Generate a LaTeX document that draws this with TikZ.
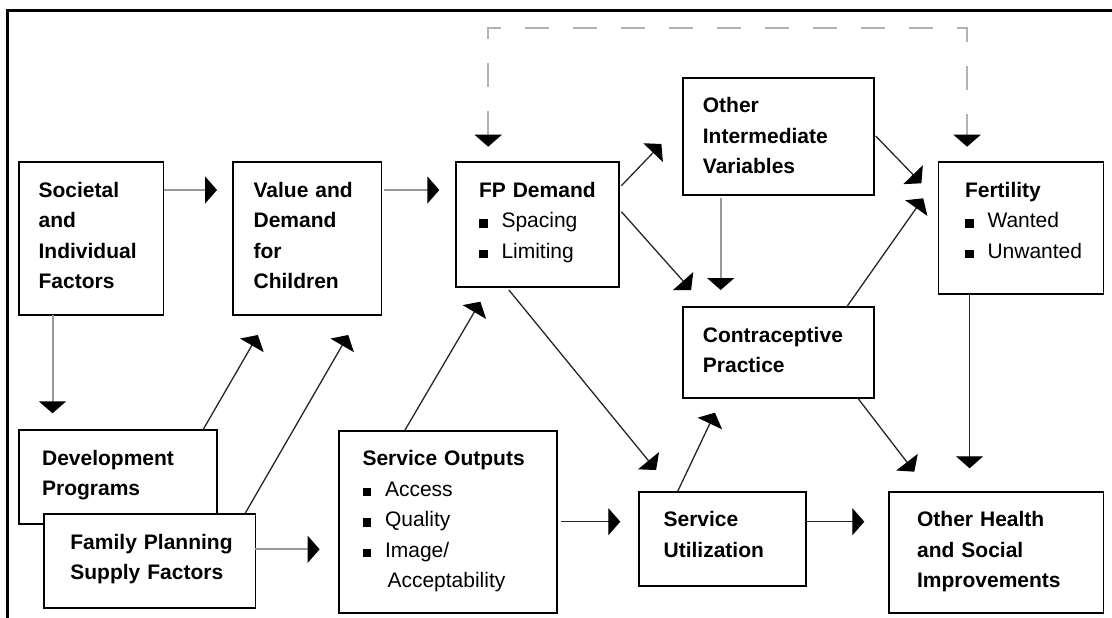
\documentclass[tikz,border=0pt]{standalone}
\usepackage{fontspec}
\setmainfont{Liberation Sans}
\usetikzlibrary{arrows.meta}
\newcommand{\fpitem}{\rule{8.5pt}{8.5pt}\hspace{14pt}\mdseries}

\begin{document}
\begin{tikzpicture}[
                x=1pt, y=-1pt,
                box/.style={draw, line width=1.7pt, fill=white, anchor=north west, inner sep=0pt, outer sep=0pt,
                            align=left, text height=35pt, font=\fontsize{21}{30.5}\selectfont\bfseries},
                pad/.style={execute at begin node={\leftskip=#1\relax}},
                line/.style={draw=black!85, line width=1.3pt, -{Triangle[width=27pt,length=12pt,color=black]}},
                grayline/.style={line, draw=black!40, line width=2pt},
                dashline/.style={draw=black!30, line width=2pt, dash pattern=on 24pt off 24pt,
                                 {Triangle[width=27pt,length=12pt,color=black]}-{Triangle[width=27pt,length=12pt,color=black]}}
            ]
            \useasboundingbox (0,0) rectangle (1112,618);
            \draw[line width=3pt] (7.9,640) -- (7.9,11) -- (1130,11);

            \node[box, pad=19.7pt, text width=144.7pt, text depth=117.7pt] (soc) at (18.9,162.3) {Societal\\and\\Individual\\Factors};
            \node[box, pad=20.4pt, text width=148.2pt, text depth=117.7pt] (val) at (233.2,162.3) {Value and\\Demand\\for\\Children};
            \node[box, pad=23pt, text width=162.9pt, text depth=89.4pt] (fpd) at (456,162.3) {FP Demand\\\fpitem Spacing\\\fpitem Limiting};
            \node[box, pad=19.7pt, text width=191.1pt, text depth=82.3pt] (oiv) at (683.2,77.7) {Other\\Intermediate\\Variables};
            \node[box, pad=26.4pt, text width=165pt, text depth=97pt] (fert) at (938.6,162.3) {Fertility\\\fpitem Wanted\\\fpitem Unwanted};
            \node[box, pad=19.7pt, text width=191.1pt, text depth=56pt] (cp) at (683.2,307.3) {Contraceptive\\Practice};
            \node[box, pad=23.2pt, text width=197.9pt, text depth=59pt] (dev) at (18.9,430) {Development\\Programs};
            \node[box, pad=26.5pt, text width=211.5pt, text depth=59pt] (sup) at (43.9,514.3) {Family Planning\\Supply Factors};
            \node[box, pad=23.2pt, text width=217.8pt, text depth=147pt] (so) at (339.3,430.7) {Service Outputs\\\fpitem Access\\\fpitem Quality\\\fpitem Image/\\\hspace*{25pt}Acceptability};
            \node[box, pad=24.3pt, text width=166.4pt, text depth=59pt] (su) at (639.3,491.7) {Service\\Utilization};
            \node[box, pad=27.8pt, text width=214.3pt, text depth=86pt] (oh) at (889.3,491.7) {Other Health\\and Social\\Improvements};

            \draw[grayline, shorten >=16.2pt] ([yshift=-27.7pt]soc.north east) -- ([yshift=-27.7pt]val.north west);
            \draw[grayline, shorten <=2.6pt, shorten >=16.7pt] ([yshift=-27.7pt]val.north east) -- ([yshift=-27.7pt]fpd.north west);
            \draw[dashline, shorten <=15.6pt, shorten >=15.6pt] ([xshift=32.2pt]fpd.north west) -- ++(0,-134) -| ([xshift=28.5pt]fert.north west);

            \draw[line] ([xshift=2.5pt,yshift=-23.4pt]fpd.north east) -- ([xshift=-21.8pt,yshift=-66.3pt]oiv.north west);
            \draw[line] ([xshift=2.5pt,yshift=-49.4pt]fpd.north east) -- ([xshift=7.9pt,yshift=17.3pt]cp.north west);
            \draw[grayline] ([xshift=37.5pt,yshift=-3pt]oiv.south west) -- ([xshift=37.5pt,yshift=17.3pt]cp.north west);
            \draw[line] ([xshift=1.4pt,yshift=-58.3pt]oiv.north east) -- ([xshift=-17.2pt,yshift=-21pt]fert.north west);
            \draw[line] ([xshift=-27.9pt]cp.north east) -- ([xshift=-15.4pt,yshift=-36pt]fert.north west);
            \draw[line, shorten >=23.4pt] ([xshift=31pt]fert.south west) -- ([xshift=80.3pt]oh.north west);

            \draw[grayline, shorten >=16.7pt] ([xshift=33.6pt]soc.south west) -- ([xshift=33.6pt]dev.north west);
            \draw[line] ([xshift=-13.9pt]dev.north east) -- ([xshift=24.7pt,yshift=-20pt]val.south west);
            \draw[line] ([xshift=-10.8pt]sup.north east) -- ([xshift=115pt,yshift=-20pt]val.south west);
            \draw[grayline, shorten >=19.7pt] ([yshift=-35pt]sup.north east) -- ([yshift=-118.6pt]so.north west);

            \draw[line] ([xshift=65.3pt]so.north west) -- ([xshift=24.4pt,yshift=-15pt]fpd.south west);
            \draw[line] ([xshift=52.9pt,yshift=-3.3pt]fpd.south west) -- ([xshift=16.8pt,yshift=21.7pt]su.north west);
            \draw[line, shorten <=3.6pt, shorten >=19pt] ([yshift=-91pt]so.north east) -- ([yshift=-30pt]su.north west);
            \draw[line] ([xshift=38.2pt]su.north west) -- ([xshift=31.8pt,yshift=-14.4pt]cp.south west);
            \draw[line, shorten >=25pt] ([yshift=-30pt]su.north east) -- ([yshift=-30pt]oh.north west);
            \draw[line] ([xshift=-16.4pt]cp.south east) -- ([xshift=25pt,yshift=20pt]oh.north west);
        \end{tikzpicture}
\end{document}
